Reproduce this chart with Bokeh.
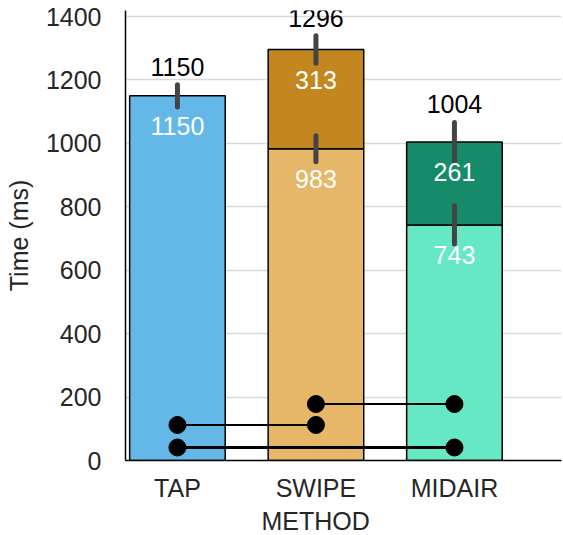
from bokeh.plotting import figure
from bokeh.models import ColumnDataSource, FixedTicker, Range1d, Title
from bokeh.core.properties import value
from bokeh.embed import file_html
from bokeh.resources import INLINE

methods = ["TAP", "SWIPE", "MIDAIR"]
base_vals = [1150, 983, 743]
base_err = [35, 41, 60]
top_vals = [0, 313, 261]
top_err = [0, 43, 62]
totals = [1150, 1296, 1004]
base_colors = ["#63B8E8", "#E6B769", "#66E8C4"]
top_colors = ["#63B8E8", "#C4871F", "#168B69"]

sig_from = ["TAP", "TAP", "SWIPE"]
sig_to = ["SWIPE", "MIDAIR", "MIDAIR"]
sig_y = [112, 41, 178]
sig_width = [2, 3, 2]

FONT = "Liberation Sans"
FS = "25px"

xs = list(range(len(methods)))
idx = {m: i for i, m in enumerate(methods)}

p = figure(width=562, height=534, output_backend="svg", toolbar_location=None,
           x_range=Range1d(-0.375, 2.773), y_range=Range1d(0, 1419),
           frame_width=436, frame_height=450,
           min_border_left=125, min_border_right=1, min_border_top=10, min_border_bottom=74)
p.outline_line_color = None
p.xgrid.grid_line_color = None
p.ygrid.grid_line_color = "#d9d9d9"
p.ygrid.grid_line_width = 1.5
p.yaxis.ticker = FixedTicker(ticks=[0, 200, 400, 600, 800, 1000, 1200, 1400])
p.xaxis.ticker = FixedTicker(ticks=xs)
p.xaxis.major_label_overrides = {i: m for i, m in enumerate(methods)}
for ax in (p.xaxis, p.yaxis):
    ax.axis_line_color = "black"
    ax.axis_line_width = 1.5
    ax.major_tick_line_color = None
    ax.minor_tick_line_color = None
    ax.major_tick_out = 0
    ax.major_tick_in = 0
    ax.major_label_text_font = FONT
    ax.major_label_text_font_size = FS
    ax.major_label_text_color = "#262626"
p.yaxis.major_label_standoff = 24
p.xaxis.major_label_standoff = 13
p.yaxis.axis_label = "Time (ms)"
p.yaxis.axis_label_text_font = FONT
p.yaxis.axis_label_text_font_size = FS
p.yaxis.axis_label_text_font_style = "normal"
p.yaxis.axis_label_text_color = "#262626"
p.yaxis.axis_label_standoff = 10

W = 0.69
# base segments
src_base = ColumnDataSource(dict(x=xs, top=base_vals, color=base_colors,
                                 lab=[str(v) for v in base_vals],
                                 elo=[v - e for v, e in zip(base_vals, base_err)],
                                 ehi=[v + e for v, e in zip(base_vals, base_err)]))
p.vbar(x="x", bottom=0, top="top", width=W, fill_color="color",
       line_color="black", line_width=1.5, source=src_base)

# top segments (only where present)
tx, tb, tt, tc, tl, tlo, thi = [], [], [], [], [], [], []
for i in xs:
    if top_vals[i] > 0:
        tx.append(i); tb.append(base_vals[i]); tt.append(base_vals[i] + top_vals[i])
        tc.append(top_colors[i]); tl.append(str(top_vals[i]))
        tlo.append(base_vals[i] + top_vals[i] - top_err[i])
        thi.append(base_vals[i] + top_vals[i] + top_err[i])
src_top = ColumnDataSource(dict(x=tx, bottom=tb, top=tt, color=tc, lab=tl, elo=tlo, ehi=thi))
p.vbar(x="x", bottom="bottom", top="top", width=W, fill_color="color",
       line_color="black", line_width=1.5, source=src_top)

# error bars
for s in (src_base, src_top):
    p.segment(x0="x", x1="x", y0="elo", y1="ehi", line_color="#444444",
              line_width=5, line_cap="round", source=s)
    p.text(x="x", y="top", text="lab", source=s, text_color="white",
           text_font=value(FONT), text_font_size=FS, text_align="center",
           text_baseline="middle", y_offset=30)

# totals above
tot_hi = [max(base_vals[i] + base_err[i], base_vals[i] + top_vals[i] + top_err[i]) for i in xs]
src_tot = ColumnDataSource(dict(x=xs, y=tot_hi, lab=[str(t) for t in totals]))
p.text(x="x", y="y", text="lab", source=src_tot, text_color="black",
       text_font=value(FONT), text_font_size=FS, text_align="center",
       text_baseline="middle", y_offset=-18)

# significance connectors
sx0 = [idx[a] for a in sig_from]
sx1 = [idx[b] for b in sig_to]
p.segment(x0=sx0, x1=sx1, y0=sig_y, y1=sig_y, line_color="black", line_width=sig_width)
p.scatter(x=sx0 + sx1, y=sig_y + sig_y, size=17, fill_color="black", line_color="black")

# x-axis title, centred under the middle category
p.add_layout(Title(text="METHOD", align="left", offset=136, standoff=0,
                   text_font=FONT, text_font_size=FS, text_font_style="normal",
                   text_color="#262626"), "below")

open("out.html", "w").write(file_html(p, INLINE))
